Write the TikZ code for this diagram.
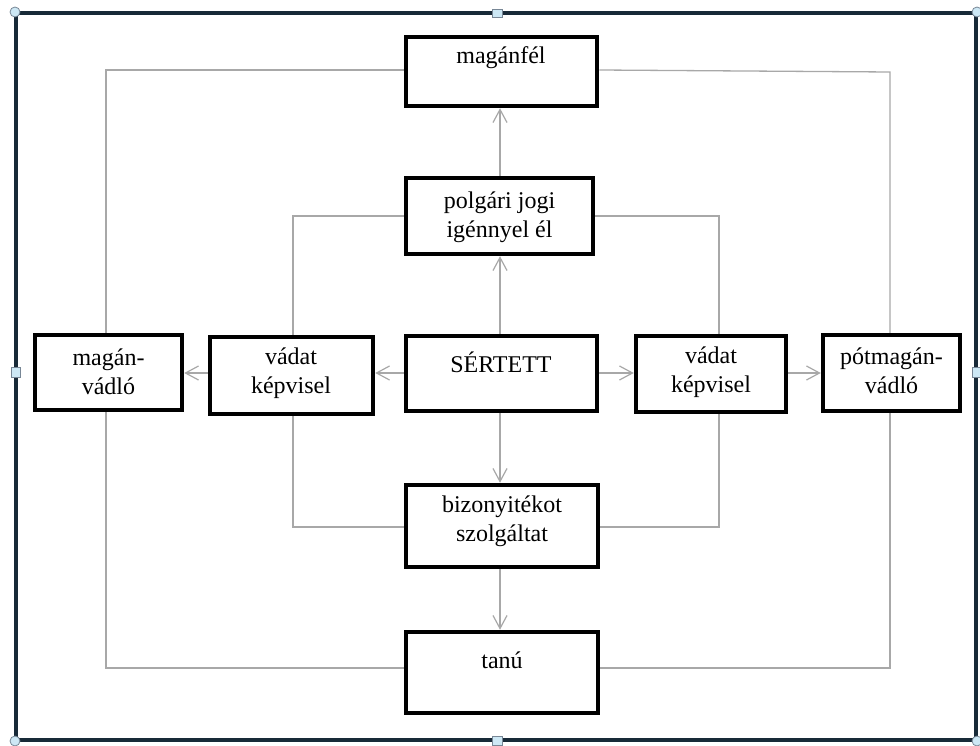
\documentclass[tikz,border=0pt]{standalone}
\usepackage{fontspec}
\setmainfont{Liberation Serif}
\usetikzlibrary{arrows.meta}
\definecolor{framec}{RGB}{24,42,56}
\definecolor{handlef}{RGB}{205,232,245}
\definecolor{handled}{RGB}{120,135,150}
\definecolor{conn}{RGB}{168,168,168}
\begin{document}
\begin{tikzpicture}[x=1pt,y=-1pt,
  box/.style={draw=black,line width=4.5pt,fill=white,inner sep=0pt},
  lbl/.style={font=\fontsize{24}{28.5}\selectfont,align=center,inner sep=0pt,text=black},
  link/.style={draw=conn,line width=1.3pt},
  arr/.style={link,-{Straight Barb[length=13pt,width=14pt,line width=1.2pt]}},
  handlec/.style={draw=handled,fill=handlef,line width=0.8pt},
]
\useasboundingbox (0,0) rectangle (980,746);
\fill[white] (0,0) rectangle (980,746);
% frame
\draw[framec,line width=3.5pt] (16,13) rectangle (976,740);
% boxes
\node[box,minimum width=191pt,minimum height=69pt] (mf) at (501.5,71.5) {};
\node[box,minimum width=187pt,minimum height=76pt] (pj) at (499.5,216) {};
\node[box,minimum width=191pt,minimum height=75pt] (se) at (501.5,373.5) {};
\node[box,minimum width=163pt,minimum height=77pt] (vl) at (291.5,375.5) {};
\node[box,minimum width=147pt,minimum height=75pt] (mv) at (108.5,372.5) {};
\node[box,minimum width=150pt,minimum height=76pt] (vr) at (711,374) {};
\node[box,minimum width=137pt,minimum height=76pt] (pm) at (891.5,373) {};
\node[box,minimum width=192pt,minimum height=82pt] (bz) at (502,526) {};
\node[box,minimum width=192pt,minimum height=81pt] (ta) at (502,672.5) {};
% labels
\node[lbl] (tmf) at (501,58) {magánfél};
\node[lbl] (tpj) at (499.5,217) {polgári jogi\\igénnyel él};
\node[lbl] (tse) at (501,362) {SÉRTETT};
\node[lbl] (tvl) at (291,373) {vádat\\képvisel};
\node[lbl] (tmv) at (108.5,372) {magán-\\vádló};
\node[lbl] (tvr) at (711,372) {vádat\\képvisel};
\node[lbl] (tpm) at (891.5,371) {pótmagán-\\vádló};
\node[lbl] (tbz) at (502,521) {bizonyitékot\\szolgáltat};
\node[lbl] (tta) at (502,660) {tanú};
% coordinates for elbows
\coordinate (c1) at (106,70);
\coordinate (c2) at (890,72);
\coordinate (c3) at (293,216);
\coordinate (c4) at (719,216);
\coordinate (c5) at (293,527);
\coordinate (c6) at (719,527);
\coordinate (c7) at (106,668);
\coordinate (c8) at (890,668);
% arrows
\draw[arr] (se.north -| 500,0) -- (pj.south -| 500,0);
\draw[arr] (pj.north -| 500,0) -- (mf.south -| 500,0);
\draw[arr] (se.west |- 0,373) -- (vl.east |- 0,373);
\draw[arr] (vl.west |- 0,373) -- (mv.east |- 0,373);
\draw[arr] (se.east |- 0,373) -- (vr.west |- 0,373);
\draw[arr] (vr.east |- 0,373) -- (pm.west |- 0,373);
\draw[arr] (se.south -| 500,0) -- (bz.north -| 500,0);
\draw[arr] (bz.south -| 500,0) -- (ta.north -| 500,0);
% plain connectors
\draw[link] (mf.west |- c1) -- (c1) -- (c1 |- mv.north);
\draw[link] (mf.east |- 0,70) -- (c2) -- (c2 |- pm.north);
\draw[link] (pj.west |- c3) -- (c3) -- (c3 |- vl.north);
\draw[link] (pj.east |- c4) -- (c4) -- (c4 |- vr.north);
\draw[link] (vl.south -| c5) -- (c5) -- (c5 -| bz.west);
\draw[link] (vr.south -| c6) -- (c6) -- (c6 -| bz.east);
\draw[link] (mv.south -| c7) -- (c7) -- (c7 -| ta.west);
\draw[link] (pm.south -| c8) -- (c8) -- (c8 -| ta.east);
% selection handles
\draw[handlec] (15,12) circle (5pt);
\draw[handlec] (977,12) circle (5pt);
\draw[handlec] (15,741) circle (5pt);
\draw[handlec] (977,741) circle (5pt);
\draw[handlec] (492,9) rectangle (502,17);
\draw[handlec] (492,736) rectangle (502,745);
\draw[handlec] (11,367) rectangle (20,377);
\draw[handlec] (972,367) rectangle (981,377);
\end{tikzpicture}
\end{document}
